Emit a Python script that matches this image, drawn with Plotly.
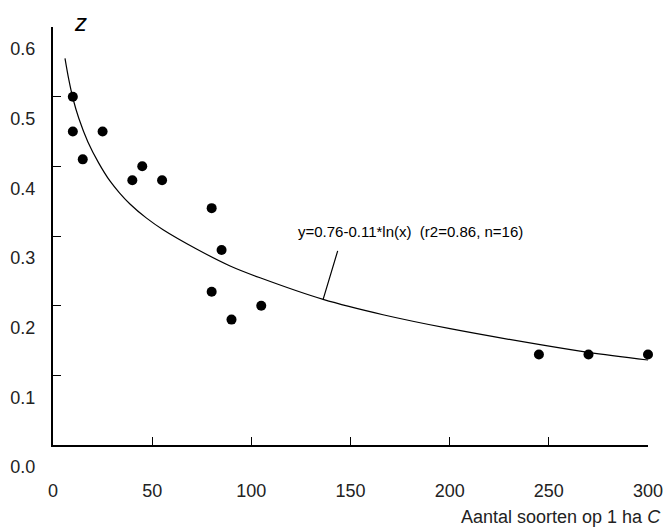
import plotly.graph_objects as go

# Observed data points (species per 1 ha C vs z)
obs_c = [10, 10, 25, 15, 40, 45, 55, 80, 85, 80, 90, 105, 245, 270, 300]
obs_z = [0.50, 0.45, 0.45, 0.41, 0.38, 0.40, 0.38, 0.34, 0.28, 0.22, 0.18, 0.20, 0.13, 0.13, 0.13]

# Fitted curve, points
fit_c = [6.05, 8.0, 10.1, 13.0, 17.6, 23.0, 28.7, 33.5, 38.8, 47.0, 55.5, 72.6, 89.3, 104.4, 136.2, 166.4, 200.2, 245.6, 269.8, 300]
fit_z = [0.555, 0.524, 0.497, 0.469, 0.435, 0.405, 0.379, 0.362, 0.346, 0.326, 0.309, 0.281, 0.257, 0.240, 0.209, 0.187, 0.167, 0.144, 0.133, 0.122]

x_ticks = [0, 50, 100, 150, 200, 250, 300]
y_ticks = [0.0, 0.1, 0.2, 0.3, 0.4, 0.5, 0.6]
y_labels = ["0.0", "0.1", "0.2", "0.3", "0.4", "0.5", "0.6"]

equation = "y=0.76-0.11*ln(x)\u00a0\u00a0(r2=0.86, n=16)"
font_fam = "Liberation Sans, Arial, sans-serif"

W, H = 665, 532
pl, pr, pt, pb = 53, 17, 27, 87
pw, ph = W - pl - pr, H - pt - pb
def px2paper(px, py):
    return (px - pl) / pw, (H - pb - py) / ph

fig = go.Figure()
fig.add_trace(go.Scatter(x=fit_c, y=fit_z, mode="lines",
                         line=dict(color="black", width=1.2, shape="spline", smoothing=1.0),
                         hoverinfo="skip", showlegend=False, cliponaxis=False))
fig.add_trace(go.Scatter(x=obs_c, y=obs_z, mode="markers",
                         marker=dict(color="black", size=10),
                         showlegend=False, cliponaxis=False))

# leader line from label to curve
fig.add_annotation(x=fit_c[14], y=fit_z[14], xref="x", yref="y", text="",
                   showarrow=True, arrowhead=0, arrowwidth=1.2, arrowcolor="black",
                   ax=15, ay=-50, standoff=0, startstandoff=0)
ex, ey = px2paper(296, 232)
fig.add_annotation(x=ex, y=ey, xref="paper", yref="paper", text=equation,
                   showarrow=False, font=dict(family=font_fam, size=15, color="black"),
                   xanchor="left", yanchor="middle")

zx, zy = px2paper(80, 22)
fig.add_annotation(x=zx, y=zy, xref="paper", yref="paper", text="<i>z</i>",
                   showarrow=False, font=dict(family=font_fam, size=24, color="black"),
                   xanchor="center", yanchor="middle")
tx, ty = px2paper(663, 517)
fig.add_annotation(x=tx, y=ty, xref="paper", yref="paper",
                   text="Aantal soorten op 1 ha <i>C</i>",
                   showarrow=False, font=dict(family=font_fam, size=18, color="#222"),
                   xanchor="right", yanchor="middle")

fig.update_layout(
    width=W, height=H,
    margin=dict(l=pl, r=pr, t=pt, b=pb),
    paper_bgcolor="white", plot_bgcolor="white",
    font=dict(family=font_fam, size=18, color="#222"),
    xaxis=dict(range=[0, 300], tickvals=x_ticks, ticks="inside", ticklen=8,
               tickwidth=1, tickcolor="black", showline=True, linecolor="black",
               linewidth=2, showgrid=False, zeroline=False, ticklabelstandoff=28,
               automargin=False),
    yaxis=dict(range=[0, 0.6], tickvals=y_ticks, ticktext=y_labels, ticks="inside",
               ticklen=8, tickwidth=1, tickcolor="black", showline=True,
               linecolor="black", linewidth=2, showgrid=False, zeroline=False,
               ticklabelshift=22, ticklabelstandoff=12, automargin=False),
)

fig.write_html("out.html", config={"displayModeBar": False},
               post_script="document.body.style.margin='0';document.body.style.overflow='hidden';")
